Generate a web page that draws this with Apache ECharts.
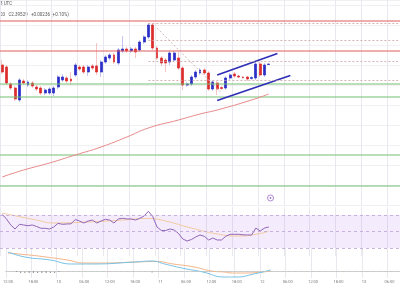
<!DOCTYPE html>
<html>
  <head>
    <meta charset="UTF-8" />
    <title>XRP/USD 1H</title>
    <style>
      html, body { margin: 0; padding: 0; background: #fff; }
      #chart { width: 400px; height: 300px; }
    </style>
    <script type="text/javascript" src="https://cdn.jsdelivr.net/npm/echarts@6/dist/echarts.min.js"></script>
  </head>
  <body>
    <div id="chart"></div>
    <script>
      // hourly candles, first slot = day 9 12:00 UTC
      var candleOpen = [
        2.400, 2.396, 2.362, 2.354, 2.330, 2.368, 2.360, 2.364, 2.356, 2.354,
        2.344, 2.344, 2.344, 2.356, 2.370, 2.374, 2.372, 2.380, 2.396, 2.396,
        2.386, 2.398, 2.398, 2.386, 2.406, 2.414, 2.420, 2.404, 2.428, 2.432,
        2.428, 2.432, 2.430, 2.446, 2.456, 2.480, 2.434, 2.414, 2.410, 2.406,
        2.410, 2.414, 2.394, 2.360, 2.362, 2.376, 2.384, 2.390, 2.384, 2.352,
        2.364, 2.355, 2.354, 2.374, 2.382, 2.378, 2.376, 2.376, 2.373, 2.374,
        2.402, 2.380, 2.401
      ];
      var candleClose = [
        2.386, 2.364, 2.354, 2.332, 2.370, 2.364, 2.366, 2.358, 2.352, 2.344,
        2.350, 2.352, 2.354, 2.376, 2.376, 2.368, 2.368, 2.400, 2.392, 2.386,
        2.396, 2.394, 2.386, 2.406, 2.416, 2.420, 2.406, 2.430, 2.432, 2.428,
        2.432, 2.426, 2.446, 2.456, 2.480, 2.434, 2.414, 2.404, 2.404, 2.424,
        2.424, 2.394, 2.360, 2.362, 2.376, 2.386, 2.390, 2.384, 2.352, 2.366,
        2.352, 2.353, 2.374, 2.380, 2.378, 2.376, 2.375, 2.372, 2.375, 2.402,
        2.380, 2.400, 2.402
      ];
      var candleLow = [
        2.382, 2.360, 2.350, 2.328, 2.326, 2.360, 2.356, 2.354, 2.348, 2.340,
        2.340, 2.340, 2.338, 2.352, 2.366, 2.364, 2.360, 2.376, 2.388, 2.382,
        2.378, 2.390, 2.380, 2.376, 2.402, 2.410, 2.402, 2.400, 2.424, 2.424,
        2.424, 2.414, 2.426, 2.442, 2.452, 2.430, 2.410, 2.398, 2.386, 2.400,
        2.406, 2.390, 2.350, 2.356, 2.358, 2.372, 2.380, 2.380, 2.348, 2.348,
        2.340, 2.350, 2.350, 2.370, 2.374, 2.374, 2.372, 2.368, 2.370, 2.370,
        2.376, 2.376, 2.400
      ];
      var candleHigh = [
        2.410, 2.400, 2.366, 2.358, 2.374, 2.372, 2.370, 2.368, 2.360, 2.358,
        2.354, 2.356, 2.358, 2.380, 2.382, 2.378, 2.386, 2.404, 2.400, 2.400,
        2.400, 2.402, 2.444, 2.410, 2.420, 2.424, 2.424, 2.434, 2.458, 2.436,
        2.436, 2.436, 2.450, 2.460, 2.484, 2.484, 2.438, 2.418, 2.414, 2.428,
        2.428, 2.426, 2.398, 2.366, 2.380, 2.390, 2.394, 2.394, 2.388, 2.370,
        2.368, 2.358, 2.378, 2.384, 2.386, 2.380, 2.378, 2.378, 2.378, 2.406,
        2.406, 2.404, 2.403
      ];

      // 100 hour SMA, [slot, price]
      var sma100 = [[0, 2.176], [5, 2.19], [11, 2.204], [17, 2.22], [23, 2.236], [29, 2.256],
                    [34, 2.274], [41, 2.29], [46, 2.302], [50, 2.31], [58, 2.33], [62, 2.342]];

      var resistanceLevels = [2.488, 2.428];
      var supportLevels = [2.362, 2.336, 2.22, 2.158];
      var fibLevels = [2.483, 2.45, 2.408, 2.37];
      var fibTrend = [[36, 2.474], [51, 2.344]];
      var channelTop = [[50, 2.38], [64, 2.423]];
      var channelBottom = [[50, 2.329], [67, 2.379]];

      var rsiValues = [
        70.8, 65.2, 57.9, 53.0, 58.7, 57.9, 57.0, 57.9, 56.1, 53.9,
        53.9, 53.0, 55.5, 59.9, 58.7, 59.1, 59.3, 64.5, 62.7, 60.3,
        62.7, 63.9, 60.3, 62.7, 64.8, 63.9, 60.3, 65.2, 66.0, 65.2,
        65.2, 63.9, 66.0, 68.8, 74.5, 68.2, 55.5, 51.2, 51.2, 53.0,
        51.8, 47.6, 40.9, 38.5, 40.3, 43.3, 45.8, 44.2, 39.7, 42.1,
        39.7, 39.7, 44.2, 46.6, 46.6, 46.6, 46.0, 45.8, 45.8, 54.2,
        50.6, 54.2, 55.5
      ];
      var rsiMa = [[0, 72.4], [8, 63.9], [12, 60.3], [20, 61.5], [28, 63.9], [34, 65.8],
                   [38, 62.7], [44, 54.2], [50, 47.0], [55, 44.5], [60, 47.6], [62, 50.6]];

      var macdLine = [[0, 19], [4, 14], [10, 11], [15, 7], [20, 7], [30, 9], [34, 10], [37, 7],
                      [41, 3], [46, -1], [51, -6], [54, -6], [58, -3], [62, 1]];
      var signalLine = [[0, 18], [5, 16], [9, 14], [14, 11], [18, 8], [23, 8], [30, 9], [35, 9.5],
                        [39, 7], [44, 4], [48, 0], [51, -1], [53, -2], [56, -2], [60, -1], [62, 0]];
      var macdHist = [[2, -1], [3, -2], [4, -2], [5, -2], [6, -2], [7, -2], [8, -2], [9, -2],
                      [10, -2], [11, -2], [12, -1], [34, -1.5]];

      var startDay = 9, startHour = 12, slotCount = 93;
      var timeSlots = [];
      for (var j = 0; j < slotCount; j++) {
        var h = (startHour + j) % 24;
        var d = startDay + Math.floor((startHour + j) / 24);
        timeSlots.push(d + ' ' + (h < 10 ? '0' : '') + h + ':00');
      }

      function slotLabel(v) {
        var p = v.split(' ');
        return p[1] === '00:00' ? p[0] : p[1];
      }
      function everySix(idx) {
        return idx % 6 === 0;
      }

      function makeX(gridIndex, showLabels) {
        return {
          type: 'category',
          gridIndex: gridIndex,
          data: timeSlots,
          boundaryGap: true,
          axisLine: { show: showLabels, lineStyle: { color: '#cfcfcf' } },
          axisTick: { show: false },
          axisLabel: {
            show: showLabels, interval: everySix, formatter: slotLabel,
            fontSize: 4, color: '#7a7a7a', margin: 2, fontFamily: 'Roboto'
          },
          splitLine: { show: true, interval: everySix, lineStyle: { color: '#e8e8ee', width: 1 } }
        };
      }

      // horizontal levels as plain two-point lines across the whole axis
      function levelSeries(name, values, color, width) {
        return values.map(function (v) {
          return {
            type: 'line', name: name, xAxisIndex: 0, yAxisIndex: 0,
            data: [[-1, v], [slotCount, v]],
            showSymbol: false, silent: true,
            lineStyle: { color: color, width: width }
          };
        });
      }

      var wickData = candleOpen.map(function (o, i) {
        return [o, candleClose[i], candleLow[i], candleHigh[i]];
      });
      var bodyData = candleOpen.map(function (o, i) {
        var c = candleClose[i];
        return [o, c, Math.min(o, c), Math.max(o, c)];
      });

      var fibLines = fibLevels.map(function (v) {
        return [{ coord: [34, v] }, { coord: [slotCount - 1, v] }];
      });
      fibLines.push([{ coord: fibTrend[0] }, { coord: fibTrend[1] }]);

      var series = []
        .concat(levelSeries('support', supportLevels, '#74c074', 1.1))
        .concat(levelSeries('resistance', resistanceLevels, '#e25c5c', 1.2))
        .concat([
          {
            type: 'line', name: 'fib', xAxisIndex: 0, yAxisIndex: 0, data: [],
            color: '#c9a3a3',
            markLine: {
              symbol: ['none', 'none'], silent: true, label: { show: false },
              lineStyle: { color: '#c9a3a3', width: 0.8, type: [2, 2] },
              data: fibLines
            }
          },
          {
            type: 'candlestick', name: 'wicks', xAxisIndex: 0, yAxisIndex: 0,
            barWidth: 2.4, data: wickData, silent: true,
            itemStyle: {
              color: 'rgba(0,0,0,0)', color0: 'rgba(0,0,0,0)',
              borderColor: 'rgba(43,47,199,0.35)', borderColor0: 'rgba(221,44,44,0.35)',
              borderWidth: 0.8
            }
          },
          {
            type: 'candlestick', name: 'XRP/USD', xAxisIndex: 0, yAxisIndex: 0,
            barWidth: 2.4, data: bodyData,
            itemStyle: {
              color: '#2b2fc7', color0: '#dd2c2c',
              borderColor: '#2b2fc7', borderColor0: '#dd2c2c', borderWidth: 0.6
            }
          },
          {
            type: 'line', name: 'SMA100', xAxisIndex: 0, yAxisIndex: 0, data: sma100,
            smooth: true, showSymbol: false, lineStyle: { color: '#e8898a', width: 1 }
          },
          {
            type: 'line', name: 'channel top', xAxisIndex: 0, yAxisIndex: 0, data: channelTop,
            showSymbol: false, lineStyle: { color: '#2d2db5', width: 1.6 }
          },
          {
            type: 'line', name: 'channel bottom', xAxisIndex: 0, yAxisIndex: 0, data: channelBottom,
            showSymbol: false, lineStyle: { color: '#2d2db5', width: 1.6 }
          },
          {
            type: 'line', name: 'RSI MA', xAxisIndex: 1, yAxisIndex: 1, data: rsiMa,
            smooth: true, showSymbol: false, lineStyle: { color: '#f3caa0', width: 1 }
          },
          {
            type: 'line', name: 'RSI', xAxisIndex: 1, yAxisIndex: 1, data: rsiValues,
            showSymbol: false, lineStyle: { color: '#9166b8', width: 1 },
            markArea: {
              silent: true,
              itemStyle: { color: 'rgba(175,120,235,0.14)' },
              data: [[{ yAxis: 30 }, { yAxis: 70 }]]
            },
            markLine: {
              symbol: ['none', 'none'], silent: true, label: { show: false },
              lineStyle: { color: '#bda3d6', width: 0.8, type: [3, 3] },
              data: [{ yAxis: 30 }, { yAxis: 50 }, { yAxis: 70 }]
            }
          },
          {
            type: 'bar', name: 'MACD hist', xAxisIndex: 2, yAxisIndex: 2, data: macdHist,
            barWidth: 0.8, itemStyle: { color: '#8a8a8a' },
            markLine: {
              symbol: ['none', 'none'], silent: true, label: { show: false },
              lineStyle: { color: '#c8c8c8', width: 0.8, type: [3, 3] },
              data: [{ yAxis: 0 }]
            }
          },
          {
            type: 'line', name: 'Signal', xAxisIndex: 2, yAxisIndex: 2, data: signalLine,
            smooth: true, showSymbol: false, lineStyle: { color: '#f2b487', width: 1 }
          },
          {
            type: 'line', name: 'MACD', xAxisIndex: 2, yAxisIndex: 2, data: macdLine,
            smooth: true, showSymbol: false, lineStyle: { color: '#77c1e6', width: 1 }
          }
        ]);

      var chart = echarts.init(document.getElementById('chart'));

      chart.setOption({
        animation: false,
        backgroundColor: '#ffffff',
        grid: [
          { left: 0, right: 0, top: 0, height: 205 },
          { left: 0, right: 0, top: 206.75, height: 49.5 },
          { left: 0, right: 0, top: 248, height: 30 }
        ],
        xAxis: [makeX(0, false), makeX(1, false), makeX(2, true)],
        yAxis: [
          {
            type: 'value', gridIndex: 0, min: 2.12, max: 2.53, interval: 0.04,
            axisLabel: { show: false }, axisLine: { show: false }, axisTick: { show: false },
            splitLine: { lineStyle: { color: '#f0f0f3' } }
          },
          { type: 'value', gridIndex: 1, min: 20, max: 80, show: false },
          { type: 'value', gridIndex: 2, min: -7, max: 23, show: false }
        ],
        graphic: [
          { type: 'text', left: 0, top: 1, style: { text: '8 UTC', fontSize: 4.5, fill: '#555', fontFamily: 'Roboto' } },
          { type: 'text', left: 0, top: 12, style: { text: '03   C2.39529   +0.00236 (+0.10%)', fontSize: 4.5, fill: '#555', fontFamily: 'Roboto' } },
          { type: 'circle', shape: { cx: 270.5, cy: 198, r: 3 }, style: { fill: 'none', stroke: '#9a6cc4', lineWidth: 0.8 } },
          { type: 'circle', shape: { cx: 270.5, cy: 198, r: 0.9 }, style: { fill: '#9a6cc4' } }
        ],
        series: series
      });
    </script>
  </body>
</html>
